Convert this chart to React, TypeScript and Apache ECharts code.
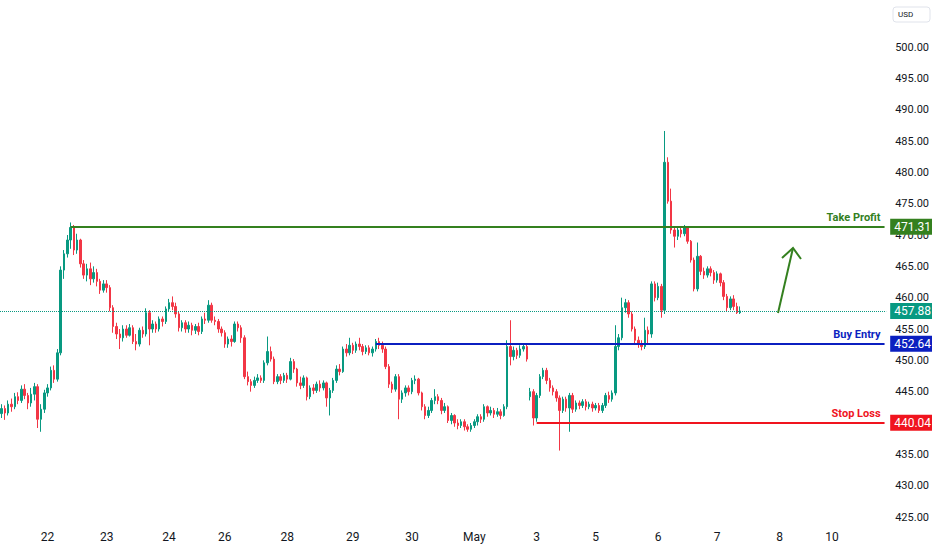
import React, { useEffect, useRef } from "react";
import * as echarts from "echarts";

// [open, close, low, high]
const ohlc: number[][] = [
  [441.5, 442.3, 440.8, 443], [442.3, 441.6, 440.5, 442.8], [441.6, 443.0, 441.2, 443.6], [443, 442.6, 441.8, 443.9],
  [442.6, 444.2, 442.2, 444.8], [444.2, 443.6, 443, 444.9], [443.6, 445.4, 443.2, 446.0], [445.4, 444.4, 443.8, 446.2],
  [444.4, 443.2, 442.2, 444.8], [443.2, 444.6, 442.6, 445.6], [444.6, 445.8, 443.6, 446.4], [445.8, 440.6, 439.2, 446.2],
  [440.6, 442.2, 438.6, 443], [442.2, 444.8, 441.6, 445.3], [444.8, 445.6, 444.2, 446.2], [445.6, 448.4, 445.2, 449],
  [448.4, 447.0, 446.4, 449.2], [447, 451.2, 446.6, 451.8], [451.2, 464.4, 450.8, 465], [464.4, 467, 463, 467.6],
  [467, 469.2, 466.4, 470], [469.2, 471.2, 467.8, 472.0], [471.2, 467.6, 466.8, 471.6], [467.6, 469.2, 467, 470.2],
  [469.2, 465.4, 464.8, 469.4], [465.4, 463.6, 463, 466], [463.6, 464.6, 462.6, 465.4], [464.6, 463, 462, 465.6],
  [463, 464, 462.4, 465], [464, 462.6, 461.8, 464.6], [462.6, 461.2, 460.6, 463], [461.2, 462.2, 460.8, 462.8],
  [462.2, 461.6, 460.8, 462.8], [461.6, 458.4, 457.8, 462], [458.4, 455.4, 454.4, 458.8], [455.4, 454.2, 453.4, 456],
  [454.2, 453.6, 451.8, 455], [453.6, 455.0, 453, 455.6], [455, 454.0, 453.6, 455.6], [454, 455.2, 453.8, 455.8],
  [455.2, 453.0, 452.6, 455.6], [453, 452.6, 451.6, 454.2], [452.6, 454.8, 452.2, 455.2], [454.8, 454.2, 453.6, 455.4],
  [454.2, 457.6, 453.8, 458.3], [457.6, 455.0, 452.4, 458], [455, 455.8, 454.4, 456.4], [455.8, 455.0, 454.4, 456.2],
  [455, 456.6, 454.6, 457], [456.6, 456.2, 455.4, 457], [456.2, 458.2, 455.8, 458.6], [458.2, 459.2, 457.8, 459.8],
  [459.2, 458.6, 458, 460.2], [458.6, 457.4, 456.8, 459.2], [457.4, 455.2, 454.6, 457.8], [455.2, 456.0, 454.6, 456.4],
  [456, 455.0, 454.4, 456.4], [455, 455.6, 454.4, 456.2], [455.6, 454.8, 454, 456], [454.8, 455.4, 454.2, 455.8],
  [455.4, 454.6, 454, 456], [454.6, 456.6, 454.2, 457], [456.6, 456.4, 455.8, 457.6], [456.4, 458.8, 456, 459.6],
  [458.8, 456.4, 456, 459.2], [456.4, 456.2, 455.6, 457], [456.2, 455.0, 454.4, 456.6], [455, 454.4, 453.8, 455.4],
  [454.4, 452.6, 452, 454.8], [452.6, 453.4, 452, 453.8], [453.4, 453.0, 452.2, 454], [453, 455.8, 452.8, 456.2],
  [455.8, 455.2, 454.6, 456.2], [455.2, 453.6, 452.8, 455.6], [453.6, 447.4, 447, 454], [447.4, 446.6, 446, 448.2],
  [446.6, 446.0, 445, 447], [446, 446.8, 445.6, 447.4], [446.8, 447.2, 446.4, 447.8], [447.2, 446.8, 446.4, 447.6],
  [446.8, 449.6, 446.4, 450], [449.6, 451.4, 449.2, 453.8], [451.4, 450.2, 449.8, 452.2], [450.2, 446.6, 446.2, 450.6],
  [446.6, 447.4, 446.2, 447.8], [447.4, 446.8, 446.2, 447.8], [446.8, 447.6, 446.4, 448], [447.6, 447.0, 446.4, 448],
  [447, 449.8, 446.8, 450.4], [449.8, 448.6, 448, 450.2], [448.6, 446.4, 445.8, 448.8], [446.4, 446.0, 445.4, 447.4],
  [446, 447.2, 445.6, 447.6], [447.2, 444.2, 443.6, 447.4], [444.2, 445.6, 443.8, 446], [445.6, 445.2, 444.6, 446.2],
  [445.2, 446.2, 444.8, 446.6], [446.2, 445.6, 445, 446.8], [445.6, 446.4, 445.2, 446.8], [446.4, 444.0, 442.6, 446.6],
  [444, 445.2, 441.2, 445.6], [445.2, 446.8, 444.8, 447.2], [446.8, 448.6, 446.4, 449.2], [448.6, 448.2, 447.6, 449.4],
  [448.2, 451.8, 448, 452.2], [451.8, 451.2, 450.6, 452.6], [451.2, 452.4, 450.8, 453.6], [452.4, 451.6, 451, 452.8],
  [451.6, 452.6, 451.2, 453], [452.6, 452.2, 451.6, 453.6], [452.2, 451.4, 450.8, 452.6], [451.4, 452.0, 451, 452.4],
  [452, 451.2, 450.8, 452.4], [451.2, 451.8, 450.6, 452.2], [451.8, 453.0, 451.4, 453.4], [453, 452.4, 451.8, 453.6],
  [452.4, 451.8, 451.2, 453], [451.8, 449.0, 448.6, 452.2], [449, 446.2, 445.6, 449.4], [446.2, 445.4, 444.8, 446.6],
  [445.4, 447.4, 445, 447.8], [447.4, 443.8, 440.6, 447.8], [443.8, 444.8, 443.2, 445.2], [444.8, 445.6, 444.2, 446],
  [445.6, 445.0, 444.4, 446], [445, 446.8, 444.6, 447.2], [446.8, 447.0, 446.2, 447.6], [447, 444.8, 444.4, 447.2],
  [444.8, 442.6, 442, 445], [442.6, 441.2, 440.6, 443], [441.2, 442.0, 440.8, 442.6], [442, 443.6, 441.6, 444],
  [443.6, 444.2, 443, 445.4], [444.2, 443.6, 443, 444.6], [443.6, 442.0, 441.4, 444], [442, 442.6, 441.6, 443.2],
  [442.6, 440.4, 440, 442.8], [440.4, 441.2, 439.8, 441.6], [441.2, 440.0, 439.4, 441.4], [440, 439.6, 439, 440.6],
  [439.6, 440.2, 439.2, 440.6], [440.2, 439.4, 438.8, 440.6], [439.4, 439.0, 438.6, 439.8], [439, 439.6, 438.6, 440],
  [439.6, 440.2, 439.2, 440.6], [440.2, 441.0, 439.6, 441.4], [441, 440.6, 440, 441.4], [440.6, 442.6, 440.2, 443],
  [442.6, 441.6, 441, 442.8], [441.6, 442.0, 441.2, 442.6], [442, 441.4, 440.8, 442.4], [441.4, 441.8, 441, 442.4],
  [441.8, 441.2, 440.6, 442.2], [441.2, 442.6, 441, 443], [442.6, 452.2, 442.2, 453.2], [452.2, 450.6, 449.2, 456.4],
  [450.6, 451.6, 450, 452.2], [451.6, 450.8, 450.2, 452], [450.8, 451.8, 450.4, 452.4], [451.8, 452.2, 451.4, 452.6],
  [452.2, 450.2, 449.8, 452.6], [444.2, 445.0, 443.6, 445.6], [445, 440.8, 439.6, 445.4], [440.8, 444.4, 440.2, 444.8],
  [444.4, 447.4, 444, 447.8], [447.4, 448.4, 447, 448.8], [448.4, 446.8, 446.2, 448.8], [446.8, 445.6, 445, 447.2],
  [445.6, 445.0, 444.4, 446], [445, 444.0, 443.4, 445.4], [444, 442.0, 435.6, 444.4], [442, 443.8, 441.6, 444.2],
  [443.8, 442.4, 441.8, 444.2], [442.4, 444.4, 438.6, 444.8], [444.4, 442.2, 441.6, 444.8], [442.2, 443.2, 441.8, 443.6],
  [443.2, 442.8, 442.2, 443.6], [442.8, 443.4, 442.4, 443.8], [443.4, 442.6, 442, 443.8], [442.6, 443.0, 442.2, 443.4],
  [443, 442.4, 441.8, 443.4], [442.4, 442.8, 442, 443.2], [442.8, 442.0, 441.6, 443.2], [442, 442.8, 441.6, 443.2],
  [442.8, 444.4, 442.4, 444.8], [444.4, 443.8, 443.2, 445], [443.8, 444.8, 443.4, 445.2], [444.8, 452.2, 444.4, 455.6],
  [452.2, 453.6, 451.6, 454.2], [453.6, 458.4, 453.2, 460], [458.4, 459.2, 457.6, 459.8], [459.2, 457.4, 456.8, 459.6],
  [457.4, 455.0, 454.6, 457.8], [455, 453.2, 452.6, 455.4], [453.2, 452.6, 452, 453.8], [452.6, 452.2, 451.6, 453.2],
  [452.2, 454.8, 451.8, 456.8], [454.8, 454.2, 452.6, 455.4], [454.2, 462.2, 453.6, 462.6], [462.2, 460.0, 459.4, 462.6],
  [460, 461.8, 459.6, 462.4], [461.8, 458.0, 456.8, 462.2], [458, 481.6, 457.4, 486.6], [481.6, 475.4, 475, 482.4],
  [475.4, 470.8, 470.2, 477.4], [470.8, 469.8, 468, 471.4], [469.8, 470.8, 469.2, 471.2], [470.8, 470.2, 469.6, 471.4],
  [470.2, 471.2, 469.8, 471.6], [471.2, 469.0, 468.6, 471.4], [469, 466.0, 465.6, 469.2], [466, 461.4, 461, 466.4],
  [461.4, 466.6, 461, 468.8], [466.6, 464.2, 463.6, 466.8], [464.2, 463.6, 463, 464.8], [463.6, 464.6, 463.2, 465],
  [464.6, 464.0, 463.4, 465], [464, 462.8, 462.2, 464.4], [462.8, 463.8, 462.4, 464.2], [463.8, 462.4, 461.8, 464],
  [462.4, 460.2, 459.6, 462.8], [460.2, 458.4, 457.8, 460.6], [458.4, 459.8, 458, 460.2], [459.8, 458.6, 458, 460.4],
  [458.6, 457.6, 457.4, 459.2], [457.6, 457.88, 457.4, 458.6],
];

const SLOTS = 270;
const dayLabelIndex = [14, 32, 51, 68, 87, 107, 125, 144, 163, 181, 200, 218, 237, 253];
const dayLabels = ["22", "23", "24", "26", "28", "29", "30", "May", "3", "5", "6", "7", "8", "10"];

const takeProfit = 471.31;
const buyEntry = 452.64;
const stopLoss = 440.04;
const lastPrice = 457.88;
const takeProfitStart = 21;
const buyEntryStart = 114;
const stopLossStart = 163;

const UP = "#089981";
const DOWN = "#f23645";
const GREEN = "#34801f";
const BLUE = "#0b1fc0";
const RED = "#f0141e";
const FONT = "Roboto, 'Noto Sans', sans-serif";

export default function App() {
  const ref = useRef<HTMLDivElement>(null);
  useEffect(() => {
    if (!ref.current) return;
    const chart = echarts.init(ref.current, undefined, { renderer: "svg" });
    const categories = Array.from({ length: SLOTS }, (_, i) => String(i));
    const labelMap: Record<number, string> = {};
    dayLabelIndex.forEach((idx, k) => (labelMap[idx] = dayLabels[k]));

    const tag = (color: string) => ({
      show: true,
      position: "end" as const,
      distance: 4,
      formatter: (p: any) => Number(p.value).toFixed(2),
      color: "#ffffff",
      backgroundColor: color,
      padding: [2, 4, 1, 4],
      fontSize: 12,
      fontFamily: FONT,
      lineHeight: 13,
      opacity: 1,
    });
    const nameLabel = (text: string, color: string) => ({
      show: true,
      position: "insideEndTop" as const,
      distance: 4,
      formatter: text,
      color,
      fontSize: 11,
      fontWeight: "bold" as const,
      fontFamily: FONT,
    });
    const level = (start: number, price: number, color: string, text: string) => [
      {
        coord: [start, price],
        lineStyle: { color, width: 2, type: "solid" },
        label: nameLabel(text, color),
      },
      { coord: [SLOTS - 1, price] },
    ];
    const tagItem = (price: number, color: string) => ({
      yAxis: price,
      lineStyle: { color: "rgba(255,255,255,0)", width: 1 },
      label: tag(color),
    });

    chart.setOption({
      animation: false,
      backgroundColor: "#ffffff",
      textStyle: { fontFamily: FONT },
      grid: { left: 0, right: 44, top: 47, bottom: 33 },
      xAxis: {
        type: "category",
        data: categories,
        boundaryGap: true,
        axisLine: { show: false },
        axisTick: { show: false },
        splitLine: { show: false },
        axisLabel: {
          interval: (index: number) => labelMap[index] !== undefined,
          formatter: (_v: string, index: number) => labelMap[index] ?? "",
          color: "#131722",
          fontSize: 12,
          margin: 14,
          fontFamily: FONT,
        },
      },
      yAxis: {
        type: "value",
        position: "right",
        min: 425,
        max: 500,
        interval: 5,
        axisLine: { show: false },
        axisTick: { show: false },
        splitLine: { show: false },
        axisLabel: {
          formatter: (v: number) => v.toFixed(2),
          color: "#131722",
          fontSize: 11,
          margin: 9,
          fontFamily: FONT,
        },
      },
      series: [
        {
          type: "candlestick",
          data: ohlc,
          barWidth: 2,
          itemStyle: {
            color: UP,
            color0: DOWN,
            borderColor: UP,
            borderColor0: DOWN,
            borderWidth: 1,
          },
          markLine: {
            silent: true,
            symbol: ["none", "none"],
            animation: false,
            data: [
              {
                yAxis: lastPrice,
                lineStyle: { color: UP, width: 1, type: "dotted" },
                label: tag(UP),
              },
              level(takeProfitStart, takeProfit, GREEN, "Take Profit"),
              level(buyEntryStart, buyEntry, BLUE, "Buy Entry"),
              level(stopLossStart, stopLoss, RED, "Stop Loss"),
              tagItem(takeProfit, GREEN),
              tagItem(buyEntry, BLUE),
              tagItem(stopLoss, RED),
            ],
          },
        },
      ],
      graphic: [
        {
          type: "polyline",
          shape: { points: [[778, 313], [793, 248]] },
          style: { stroke: GREEN, lineWidth: 2, fill: "none" },
          z: 100,
        },
        {
          type: "polyline",
          shape: { points: [[782, 258], [793, 248], [801, 259]] },
          style: { stroke: GREEN, lineWidth: 2, fill: "none" },
          z: 100,
        },
        {
          type: "rect",
          shape: { x: 893, y: 7, width: 37, height: 15, r: 3 },
          style: { fill: "#ffffff", stroke: "#e0e3eb", lineWidth: 1 },
          z: 100,
        },
        {
          type: "text",
          x: 898,
          y: 10,
          style: { text: "USD", fill: "#131722", fontSize: 8, fontFamily: FONT },
          z: 101,
        },
      ],
    });
    return () => chart.dispose();
  }, []);
  return (
    <div
      ref={ref}
      style={{ position: "absolute", left: 0, top: 0, width: 932, height: 550 }}
    />
  );
}
